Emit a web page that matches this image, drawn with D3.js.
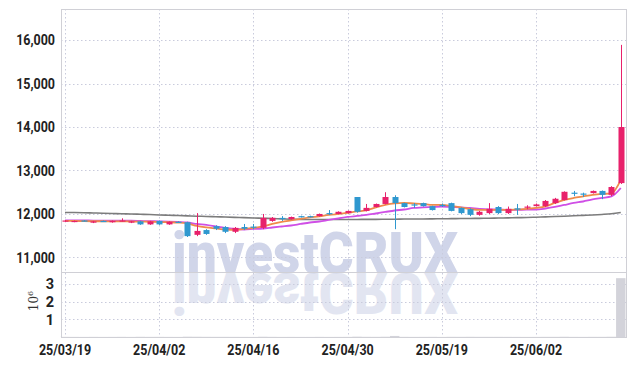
<!DOCTYPE html>
<html>
<head>
<meta charset="utf-8">
<script src="https://cdn.jsdelivr.net/npm/d3@7"></script>
<style>
  html, body { margin: 0; padding: 0; background: #fff; }
  svg { display: block; }
  .tick text { font-family: Roboto, "DejaVu Sans", sans-serif; font-weight: bold; font-size: 14.5px; fill: #222; }
</style>
</head>
<body>
<div id="chart"></div>
<script>
// trading days shown on the chart
const dates = [
  '25/03/19','25/03/20','25/03/21','25/03/24','25/03/25','25/03/26','25/03/27','25/03/28','25/03/31','25/04/01',
  '25/04/02','25/04/03','25/04/04','25/04/07','25/04/08','25/04/09','25/04/10','25/04/11','25/04/14','25/04/15',
  '25/04/16','25/04/17','25/04/18','25/04/21','25/04/22','25/04/23','25/04/24','25/04/25','25/04/28','25/04/29',
  '25/04/30','25/05/02','25/05/07','25/05/08','25/05/09','25/05/12','25/05/13','25/05/14','25/05/15','25/05/16',
  '25/05/19','25/05/20','25/05/21','25/05/22','25/05/23','25/05/26','25/05/27','25/05/28','25/05/29','25/05/30',
  '25/06/02','25/06/04','25/06/05','25/06/09','25/06/10','25/06/11','25/06/12','25/06/13','25/06/16','25/06/17'
];
const opens = [
  11830,11820,11850,11800,11840,11810,11840,11800,11830,11760,
  11840,11760,11820,11810,11520,11630,11720,11700,11590,11700,
  11710,11680,11840,11910,11880,11950,11950,11950,12020,12000,
  12020,12390,12070,12160,12230,12390,12250,12220,12250,12180,
  12210,12250,12140,12110,11980,12020,12160,12020,12130,12150,
  12180,12180,12250,12320,12490,12470,12480,12530,12440,12710
];
const highs = [
  11860,11850,11860,11840,11850,11850,11900,11840,11840,11840,
  11850,11830,11830,11820,12020,11650,11740,11720,11700,11770,
  11770,12000,11930,11950,11940,11960,11960,12010,12090,12060,
  12080,12390,12230,12240,12500,12430,12260,12250,12260,12190,
  12240,12260,12150,12130,12070,12250,12180,12170,12230,12200,
  12240,12320,12370,12520,12530,12490,12540,12540,12640,15890
];
const lows = [
  11820,11810,11830,11790,11820,11800,11830,11790,11750,11750,
  11750,11750,11800,11470,11490,11520,11630,11560,11560,11630,
  11650,11650,11820,11840,11870,11920,11920,11940,11980,11990,
  12010,12030,12060,12150,12220,11650,12150,12140,12170,12080,
  12160,12060,12000,11950,11960,12000,12000,12000,11980,12110,
  12170,12160,12230,12310,12410,12390,12470,12340,12410,12690
];
const closes = [
  11850,11840,11840,11830,11830,11840,11850,11830,11760,11830,
  11760,11820,11810,11490,11610,11540,11660,11590,11680,11660,
  11690,11910,11910,11890,11930,11930,11930,12000,12000,12050,
  12070,12050,12140,12230,12390,12250,12160,12200,12180,12090,
  12180,12070,12020,11980,12050,12120,12020,12120,12100,12170,
  12220,12300,12350,12510,12470,12450,12530,12440,12620,14000
];
const volumes = [
  9000,7000,5000,8000,6000,7000,9000,6000,12000,8000,
  10000,7000,6000,18000,15000,11000,9000,10000,8000,7000,
  6000,16000,9000,6000,7000,5000,5000,8000,6000,7000,
  8000,20000,11000,9000,16000,60000,10000,7000,8000,9000,
  6000,11000,10000,12000,9000,10000,9000,8000,7000,6000,
  7000,9000,10000,14000,8000,7000,9000,10000,15000,3340000
];
// moving averages
const ma5 = [
  11839,11839,11834,11832,11832,11830,11830,11828,11823,11821,
  11816,11811,11802,11781,11724,11690,11667,11644,11632,11655,
  11678,11713,11770,11816,11851,11885,11920,11943,11977,12000,
  12023,12058,12081,12150,12207,12242,12253,12242,12230,12207,
  12207,12184,12150,12115,12092,12092,12092,12092,12104,12115,
  12138,12173,12253,12322,12368,12403,12437,12460,12472,12782
];
const ma10 = [
  11851,11851,11851,11848,11848,11846,11846,11844,11839,11834,
  11830,11825,11816,11804,11770,11747,11712,11678,11655,11643,
  11655,11666,11689,11712,11735,11770,11804,11827,11862,11896,
  11931,11954,11977,12011,12046,12080,12103,12138,12150,12161,
  12172,12161,12150,12138,12115,12103,12103,12092,12092,12103,
  12103,12126,12161,12207,12253,12287,12333,12368,12403,12598
];
const ma60 = [
  12035,12032,12028,12023,12018,12012,12005,12000,11993,11986,
  11977,11970,11963,11956,11949,11943,11936,11929,11922,11915,
  11908,11901,11894,11887,11880,11876,11873,11871,11871,11871,
  11873,11873,11876,11876,11878,11880,11883,11885,11885,11887,
  11890,11892,11894,11896,11899,11901,11906,11910,11915,11919,
  11926,11933,11940,11949,11959,11968,11977,11989,12005,12035
];
const priceTicks = [11000, 12000, 13000, 14000, 15000, 16000];
const volumeTicks = [1, 2, 3];
const dateTicks = ['25/03/19', '25/04/02', '25/04/16', '25/04/30', '25/05/19', '25/06/02'];

const width = 634, height = 366;
const plotLeft = 61, plotRight = 626, plotTop = 9, split = 272, plotBottom = 337;

const svg = d3.select('#chart').append('svg')
  .attr('width', width)
  .attr('height', height);

const x = d3.scaleBand().domain(dates).range([60.3, 625.5]).padding(0);
const y = d3.scaleLinear().domain([10665, 16715]).range([split, plotTop]);
const yv = d3.scaleLinear().domain([0, 3.69]).range([plotBottom, split]);
const cx = d => x(d) + x.bandwidth() / 2;

// watermark, mirrored below the price panel
const wmBase = 273;
svg.append('text')
  .attr('id', 'wm')
  .attr('x', 172).attr('y', wmBase)
  .attr('textLength', 286).attr('lengthAdjust', 'spacingAndGlyphs')
  .style('font-family', 'Roboto, "Liberation Sans", sans-serif')
  .style('font-weight', 900).style('font-size', '58px')
  .attr('fill', '#d0d5e9')
  .text('investCRUX');
svg.append('use')
  .attr('href', '#wm')
  .attr('transform', `translate(0,${wmBase * 2}) scale(1,-1)`)
  .attr('opacity', 0.6);

// grid
const grid = svg.append('g').attr('stroke', '#c9cbdc').attr('stroke-width', 1).attr('stroke-dasharray', '1.5,2.5');
grid.selectAll('.hp').data(priceTicks).enter().append('line')
  .attr('x1', plotLeft).attr('x2', plotRight)
  .attr('y1', d => Math.round(y(d)) + 0.5).attr('y2', d => Math.round(y(d)) + 0.5);
grid.selectAll('.hv').data(volumeTicks).enter().append('line')
  .attr('x1', plotLeft).attr('x2', plotRight)
  .attr('y1', d => Math.round(yv(d)) + 0.5).attr('y2', d => Math.round(yv(d)) + 0.5);
grid.selectAll('.vx').data(dateTicks).enter().append('line')
  .attr('x1', d => Math.round(cx(d)) + 0.5).attr('x2', d => Math.round(cx(d)) + 0.5)
  .attr('y1', plotTop).attr('y2', plotBottom);

// frame
const frame = svg.append('g').attr('stroke', '#d0d0d6').attr('stroke-width', 1).attr('fill', 'none');
frame.append('rect').attr('x', plotLeft + 0.5).attr('y', plotTop + 0.5)
  .attr('width', plotRight - plotLeft).attr('height', plotBottom - plotTop);
frame.append('line').attr('x1', plotLeft).attr('x2', plotRight + 1)
  .attr('y1', split + 0.5).attr('y2', split + 0.5);

// volume bars
svg.append('g').selectAll('rect').data(dates).enter().append('rect')
  .attr('x', d => x(d))
  .attr('width', x.bandwidth())
  .attr('y', (d, i) => yv(volumes[i] / 1e6))
  .attr('height', (d, i) => plotBottom - yv(volumes[i] / 1e6))
  .attr('fill', '#d3d3da');

// moving average lines
const lineOf = vals => d3.line().x((d, i) => cx(d)).y((d, i) => y(vals[i])).curve(d3.curveMonotoneX)(dates);
svg.append('path').attr('d', lineOf(ma60)).attr('fill', 'none').attr('stroke', '#7c7c7c').attr('stroke-width', 1.6);
svg.append('path').attr('d', lineOf(ma10)).attr('fill', 'none').attr('stroke', '#cf4fe6').attr('stroke-width', 1.8);
svg.append('path').attr('d', lineOf(ma5)).attr('fill', 'none').attr('stroke', '#f08a4b').attr('stroke-width', 1.8);

// candles
const up = '#e8216b', down = '#2f98cf';
const bodyW = 6;
const candles = svg.append('g').selectAll('g').data(dates).enter().append('g');
candles.append('line')
  .attr('x1', d => Math.round(cx(d)) + 0.5).attr('x2', d => Math.round(cx(d)) + 0.5)
  .attr('y1', (d, i) => y(highs[i])).attr('y2', (d, i) => y(lows[i]))
  .attr('stroke', (d, i) => closes[i] >= opens[i] ? up : down)
  .attr('stroke-width', 1);
candles.append('rect')
  .attr('x', d => Math.round(cx(d)) + 0.5 - bodyW / 2)
  .attr('width', bodyW)
  .attr('y', (d, i) => y(Math.max(opens[i], closes[i])))
  .attr('height', (d, i) => Math.max(1.2, Math.abs(y(opens[i]) - y(closes[i]))))
  .attr('fill', (d, i) => closes[i] >= opens[i] ? up : down);

// axes
const squeeze = sel => sel.selectAll('text').each(function () {
  const w = this.getComputedTextLength();
  d3.select(this).attr('textLength', w * 0.86).attr('lengthAdjust', 'spacingAndGlyphs');
});

const yAxis = svg.append('g').attr('transform', `translate(${plotLeft},0)`)
  .call(d3.axisLeft(y).tickValues(priceTicks).tickSize(0).tickPadding(6).tickFormat(d3.format(',')));
yAxis.select('.domain').remove();
squeeze(yAxis);

const vAxis = svg.append('g').attr('transform', `translate(${plotLeft},0)`)
  .call(d3.axisLeft(yv).tickValues(volumeTicks).tickSize(0).tickPadding(7).tickFormat(d3.format('d')));
vAxis.select('.domain').remove();

const xAxis = svg.append('g').attr('transform', `translate(0,${plotBottom})`)
  .call(d3.axisBottom(x).tickValues(dateTicks).tickSize(0).tickPadding(8));
xAxis.select('.domain').remove();
squeeze(xAxis);

// volume unit label
const unit = svg.append('text')
  .attr('transform', 'translate(38,301) rotate(-90)')
  .attr('text-anchor', 'middle')
  .style('font-family', '"DejaVu Serif", serif')
  .style('font-size', '12px')
  .attr('fill', '#333');
unit.append('tspan').text('10');
unit.append('tspan').attr('dy', -5).style('font-size', '8px').text('6');
</script>
</body>
</html>
